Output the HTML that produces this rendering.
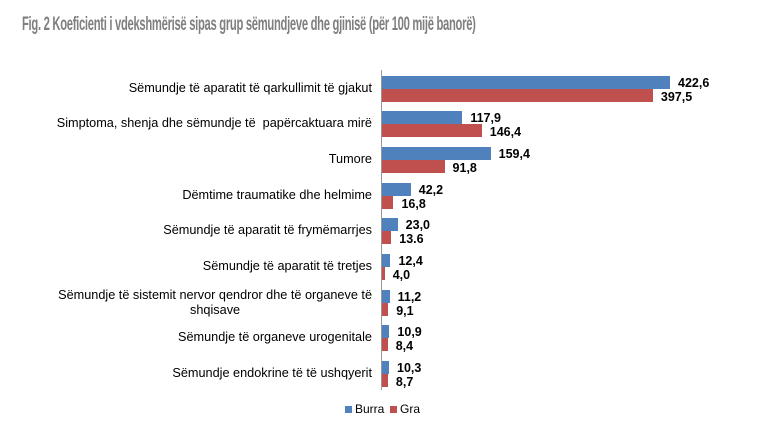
<!DOCTYPE html>
<html><head><meta charset="utf-8"><style>
body{margin:0;width:768px;height:439px;background:#fff;position:relative;overflow:hidden;font-family:"Liberation Sans",sans-serif}
.t{position:absolute;left:22px;top:13px;font-size:19.5px;font-weight:bold;color:#7f7f7f;letter-spacing:-0.5px;white-space:nowrap;transform:scaleX(0.575);transform-origin:0 0}
.b{position:absolute;height:13px}
.bl{background:#4f81bd}.rd{background:#c0504d}
.v{position:absolute;font-size:12.5px;font-weight:bold;color:#000;line-height:13px}
.c{position:absolute;right:396px;font-size:12.7px;color:#000;text-align:center;line-height:15px;white-space:nowrap}
.ax{position:absolute;left:381px;top:70px;width:1px;height:320px;background:#999}
.lg{position:absolute;top:402px;font-size:12px}
.sq{display:inline-block;width:7px;height:7px;margin-right:3px}
</style></head><body>
<div class="t">Fig. 2 Koeficienti i vdekshmërisë sipas grup sëmundjeve dhe gjinisë (për 100 mijë banorë)</div>
<div class="ax"></div>
<div id="g"></div>
<div class="lg" style="left:345px"><span class="sq bl"></span>Burra</div>
<div class="lg" style="left:390px"><span class="sq rd"></span>Gra</div>
<script>
var d=[["Sëmundje të aparatit të qarkullimit të gjakut",422.6,397.5,"422,6","397,5"],
["Simptoma, shenja dhe sëmundje të &nbsp;papërcaktuara mirë",117.9,146.4,"117,9","146,4"],
["Tumore",159.4,91.8,"159,4","91,8"],
["Dëmtime traumatike dhe helmime",42.2,16.8,"42,2","16,8"],
["Sëmundje të aparatit të frymëmarrjes",23.0,13.6,"23,0","13.6"],
["Sëmundje të aparatit të tretjes",12.4,4.0,"12,4","4,0"],
["Sëmundje të sistemit nervor qendror dhe të organeve të<br>shqisave",11.2,9.1,"11,2","9,1"],
["Sëmundje të organeve urogenitale",10.9,8.4,"10,9","8,4"],
["Sëmundje endokrine të të ushqyerit",10.3,8.7,"10,3","8,7"]];
var h="",k=0.6815,x0=382;
d.forEach(function(r,i){var c=88.5+i*35.7;
var w1=r[1]*k,w2=r[2]*k;
h+='<div class="b bl" style="left:'+x0+'px;top:'+(c-13)+'px;width:'+w1+'px"></div>';
h+='<div class="b rd" style="left:'+x0+'px;top:'+c+'px;width:'+w2+'px"></div>';
h+='<div class="v" style="left:'+(x0+w1+8)+'px;top:'+(c-12)+'px">'+r[3]+'</div>';
h+='<div class="v" style="left:'+(x0+w2+8)+'px;top:'+(c+2)+'px">'+r[4]+'</div>';
var two=r[0].indexOf("<br>")>0;
h+='<div class="c" style="top:'+(c-(two?15:8))+'px">'+r[0]+'</div>';});
document.getElementById("g").innerHTML=h;
</script>
</body></html>
